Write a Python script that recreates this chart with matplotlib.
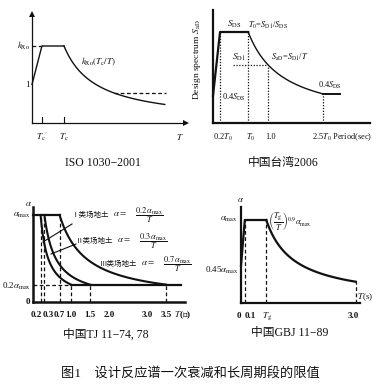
import numpy as np
import matplotlib.pyplot as plt

plt.rcParams['font.family'] = ['Liberation Serif', 'Noto Sans CJK SC']
plt.rcParams['mathtext.fontset'] = 'stix'

# ---- ISO 1030-2001 (T in units of Tc, k relative to 1) ----
iso_Tc_prime = 0.31
iso_Tc = 1.0
iso_kRo = 2.0
iso_start = 1.0
iso_T_end = 4.15
iso_floor = 0.78

# ---- Taiwan 2006 ----
tw_T0 = 0.64
tw_SDS = 1.0
tw_ramp_start = 0.30
tw_T_end = 2.0
tw_T_flat = 2.3
tw_ticks = [0.2 * tw_T0, tw_T0, 1.0]
tw_tick_labels = [r'0.2$T_0$', r'$T_0$', '1.0']

# ---- China TJ 11-74, 78 ----
tj_corners = [0.2, 0.3, 0.7]
tj_coefs = [0.2, 0.3, 0.7]
tj_floor = 0.2
tj_floor_end = 3.9
tj_ticks = [0.2, 0.3, 0.7, 1.0, 1.5, 2.0, 3.0, 3.5]
tj_tick_labels = ['0.2', '0.3', '0.7', '1.0', '1.5', '2.0', '3.0', '3.5']
tj_classes = ['Ⅰ类场地土', 'Ⅱ类场地土', 'Ⅲ类场地土']

# ---- China GBJ 11-89 ----
gbj_Tg = 0.66
gbj_T1 = 0.1
gbj_ramp_start = 0.45
gbj_exp = 0.9
gbj_T_end = 3.0

W, H = 380, 386
fig = plt.figure(figsize=(W / 100, H / 100), dpi=100)
fig.patch.set_facecolor('white')
K = '#111111'


def panel(ox, oy, sx, sy):
    ax = fig.add_axes([0, 0, 1, 1])
    ax.set_xlim(-ox / sx, (W - ox) / sx)
    ax.set_ylim((oy - H) / sy, oy / sy)
    ax.axis('off')
    ax.patch.set_alpha(0)
    px = lambda x, y: ((x - ox) / sx, (oy - y) / sy)
    return ax, px


def txt(x, y, s, size=6.5, ha='center', va='center', **kw):
    fig.text(x / W, 1 - y / H, s, fontsize=size, ha=ha, va=va, color=K, **kw)


# ================= ISO =================
ax, px = panel(32, 123, 32, 38.5)
xe, _ = px(186, 123)
_, ye = px(32, 14)
ax.plot([0, xe], [0, 0], color=K, lw=0.9)
ax.plot([0, 0], [0, ye], color=K, lw=0.9)
ax.plot([xe], [0], marker='>', ms=5, color=K, mew=0)
ax.plot([0], [ye], marker='^', ms=5, color=K, mew=0)
T = np.linspace(iso_Tc, iso_T_end, 120)
ax.plot([0, iso_Tc_prime, iso_Tc], [iso_start, iso_kRo, iso_kRo], color=K, lw=1.0)
ax.plot(T, iso_kRo * iso_Tc / T, color=K, lw=1.0)
ax.plot([0, iso_Tc_prime], [iso_kRo, iso_kRo], color=K, lw=0.9, ls=(0, (3, 2)))
ax.plot([iso_kRo * iso_Tc / iso_floor, iso_T_end + 0.05], [iso_floor, iso_floor],
        color=K, lw=0.9, ls=(0, (3, 2)))
for t in [iso_Tc_prime, iso_Tc]:
    ax.plot([t, t], [0, 0.16], color=K, lw=0.8)
txt(30, 46, r'$k_{\rm Ro}$', ha='right')
txt(27, 85, '1')
txt(99, 62, r'$k_{\rm Ro}(T_{\rm c}/T)$', size=6.5)
txt(42, 137, r"$T_{\rm c}{}'$")
txt(64, 137, r'$T_{\rm c}$')
txt(180, 137, r'$T$')
txt(103, 163, 'ISO 1030−2001', size=8.5)

# ================= Taiwan =================
ax, px = panel(213, 123, 55, 91)
ax.plot([0, 0], [0, (123 - 10) / 91], color=K, lw=1.6)
ax.plot([0, (370 - 213) / 55], [0, 0], color=K, lw=1.6)
tw_SD1 = tw_SDS * tw_T0
ax.plot([0, 0.2 * tw_T0, tw_T0], [tw_ramp_start, tw_SDS, tw_SDS], color=K, lw=1.6)
T = np.linspace(tw_T0, tw_T_end, 120)
ax.plot(T, tw_SD1 / T, color=K, lw=1.0)
tw_low = tw_SD1 / tw_T_end
ax.plot([tw_T_end, tw_T_flat], [tw_low, tw_low], color=K, lw=1.4)
dot = dict(color=K, lw=0.9, ls=(0, (1, 1.3)))
ax.plot([0.2 * tw_T0] * 2, [0, tw_SDS], **dot)
ax.plot([tw_T0] * 2, [0, tw_SDS], **dot)
ax.plot([1.0, 1.0], [0, tw_SD1], **dot)
ax.plot([(233 - 213) / 55, 1.0], [tw_SD1, tw_SD1], **dot)
ax.plot([tw_T_end] * 2, [0, tw_low], **dot)
for t, lab in zip(tw_ticks, tw_tick_labels):
    x = 213 + t * 55
    txt(x + 3, 137, lab, size=6)
txt(312, 137, r'2.5$T_0$ Period(sec)', size=6, ha='left')
txt(197, 60, r'Design spectrum $S_{\rm aD}$', size=6.8, rotation=90)
txt(234, 24, r'$S_{\rm DS}$', size=6.5)
txt(268, 25, r'$T_0$=$S_{\rm D1}$/$S_{\rm DS}$', size=6)
txt(239, 57, r'$S_{\rm D1}$', size=6.5)
txt(290, 57, r'$S_{\rm aD}$=$S_{\rm D1}$/$T$', size=6)
txt(234, 97, r'0.4$S_{\rm DS}$', size=6)
txt(330, 85, r'0.4$S_{\rm DS}$', size=6)
txt(283, 163, '中国台湾2006', size=8.5)

# ================= TJ 11-74, 78 =================
ax, px = panel(33, 302, 38, 87)
ax.plot([0, 0], [0, (302 - 207) / 87], color=K, lw=1.8)
ax.plot([0, 4.0], [0, 0], color=K, lw=1.8)
ax.plot([0, max(tj_corners)], [1, 1], color=K, lw=1.6)
for c, a in zip(tj_corners, tj_coefs):
    T = np.linspace(c, a / tj_floor, 120)
    ax.plot(T, a / T, color=K, lw=1.5)
ax.plot([tj_coefs[0] / tj_floor, tj_floor_end], [tj_floor, tj_floor], color=K, lw=1.6)
dash = dict(color=K, lw=0.9, ls=(0, (3, 2)))
ax.plot([0, tj_coefs[0] / tj_floor], [tj_floor, tj_floor], **dash)
for c in tj_corners:
    ax.plot([c, c], [0, 1], **dash)
for a in tj_coefs:
    ax.plot([a / tj_floor] * 2, [0, tj_floor], **dash)
for t, lab in zip(tj_ticks, tj_tick_labels):
    x = 33 + t * 38
    ha = 'center'
    if lab == '0.2':
        x, ha = x + 1, 'right'
    elif lab == '0.3':
        x, ha = x - 2, 'left'
    txt(x, 315, lab, size=6.5, ha=ha, weight='bold')
txt(174, 315, r'$T$(秒)', size=6.5, ha='left', weight='bold')
txt(28, 204, r'$\alpha$', size=6.5)
txt(31, 215, r'$\alpha_{\rm max}$', size=6.5, ha='right')
txt(31, 286, r'0.2$\alpha_{\rm max}$', size=6.5, ha='right')
txt(30, 302, '0', size=6.5, ha='right', weight='bold')
ax.plot(*zip(px(72, 224), px(43, 242)), color=K, lw=0.8)
ax.plot(*zip(px(76, 244), px(51, 254)), color=K, lw=0.8)
lab_pos = [(72, 214), (76, 240), (100, 263)]
for (x, y), name, a in zip(lab_pos, tj_classes, tj_coefs):
    txt(x, y, name, size=5.4, ha='left')
    txt(x + 41, y, r'$\alpha=$', size=6.5, ha='left')
    txt(x + 63, y + 1, r'$\dfrac{%.1f\,\alpha_{\rm max}}{T}$' % a, size=6, ha='left')
txt(106, 335, '中国TJ 11−74, 78', size=8.5)

# ================= GBJ 11-89 =================
ax, px = panel(241, 303, 38.3, 83)
ax.plot([0, 0], [0, (303 - 207) / 83], color=K, lw=1.6)
ax.plot([0, 3.1], [0, 0], color=K, lw=1.6)
ax.plot([0, gbj_T1, gbj_Tg], [gbj_ramp_start, 1, 1], color=K, lw=1.6)
T = np.linspace(gbj_Tg, gbj_T_end, 120)
ax.plot(T, (gbj_Tg / T) ** gbj_exp, color=K, lw=1.6)
end = (gbj_Tg / gbj_T_end) ** gbj_exp
ax.plot([gbj_T1] * 2, [0, 1], **dash)
ax.plot([gbj_Tg] * 2, [0, 1], **dash)
ax.plot([gbj_T_end] * 2, [0, end], **dash)
txt(240, 200, r'$\alpha$', size=6.5)
txt(238, 219, r'$\alpha_{\rm max}$', size=6.5, ha='right')
txt(238, 270, r'0.45$\alpha_{\rm max}$', size=6.5, ha='right')
txt(290, 221, r'$\left(\dfrac{T_{\rm g}}{T}\right)^{0.9}\alpha_{\rm max}$', size=6)
txt(365, 297, r'$T$(s)', size=6.5)
txt(239, 316, '0', size=6.5, weight='bold')
txt(250, 316, '0.1', size=6.5, weight='bold')
txt(267, 316, r'$T_{\rm g}$', size=6.5)
txt(353, 316, '3.0', size=6.5, weight='bold')
txt(290, 333, '中国GBJ 11−89', size=8.5)

# ================= caption =================
txt(190, 373, '图1    设计反应谱一次衰减和长周期段的限值', size=9.5)

fig.savefig('out.png', dpi=100, facecolor='white')
